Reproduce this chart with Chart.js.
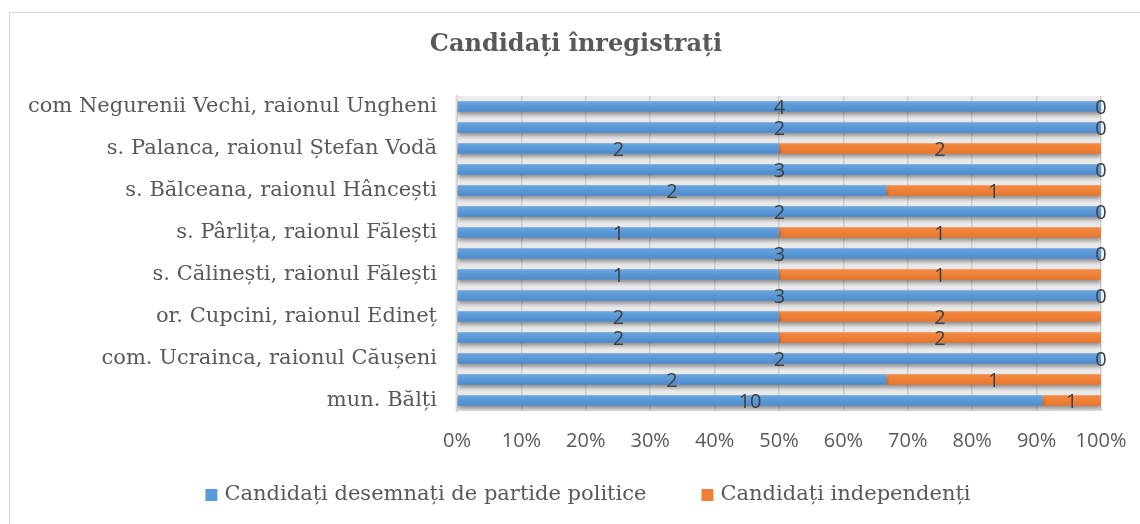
<!DOCTYPE html>
<html>
<head>
<meta charset="utf-8">
<script src="https://cdn.jsdelivr.net/npm/chart.js@4.4.0/dist/chart.umd.min.js"></script>
<style>
  html, body { margin: 0; padding: 0; background: #fff; }
  #wrap { position: relative; width: 1140px; height: 524px; overflow: hidden; }
  #frame { position: absolute; left: 9px; top: 12px; width: 1200px; height: 600px; border: 1px solid #d9d9d9; box-sizing: border-box; }
  canvas { position: absolute; left: 0; top: 0; }
</style>
</head>
<body>
<div id="wrap">
  <div id="frame"></div>
  <canvas id="c" width="1140" height="524"></canvas>
</div>
<script>
const titleText = 'Candidați înregistrați';
const categories = [
  'com Negurenii Vechi, raionul Ungheni',
  '',
  's. Palanca, raionul Ștefan Vodă',
  '',
  's. Bălceana, raionul Hâncești',
  '',
  's. Pârlița, raionul Fălești',
  '',
  's. Călinești, raionul Fălești',
  '',
  'or. Cupcini, raionul Edineț',
  '',
  'com. Ucrainca, raionul Căușeni',
  '',
  'mun. Bălți'
];
const seriesNames = ['Candidați desemnați de partide politice', 'Candidați independenți'];
const partyCandidates = [4, 2, 2, 3, 2, 2, 1, 3, 1, 3, 2, 2, 2, 2, 10];
const independentCandidates = [0, 0, 2, 0, 1, 0, 1, 0, 1, 0, 2, 2, 0, 1, 1];
const xTicks = [0, 10, 20, 30, 40, 50, 60, 70, 80, 90, 100];

const totals = partyCandidates.map((v, i) => v + independentCandidates[i]);
const pct = arr => arr.map((v, i) => v / totals[i] * 100);

const serif = "'DejaVu Serif', serif";
const sans = "'Open Sans', sans-serif";
const seriesColors = ['#5a9ad9', '#f07f36'];

function barFill(top, bottom, fallback) {
  return (context) => {
    const chart = context.chart;
    const ys = chart.scales && chart.scales.y;
    if (!ys || !chart.chartArea || context.dataIndex === undefined) return fallback;
    const y = ys.getPixelForValue(context.dataIndex);
    if (!isFinite(y)) return fallback;
    const g = chart.ctx.createLinearGradient(0, y - 6, 0, y + 6);
    g.addColorStop(0, top);
    g.addColorStop(1, bottom);
    return g;
  };
}

const plotPlugin = {
  id: 'plotDecor',
  beforeDraw(chart) {
    const { ctx, chartArea: a } = chart;
    ctx.save();
    ctx.fillStyle = '#ebebeb';
    ctx.fillRect(a.left - 2, a.top, a.right - a.left + 2, a.bottom - a.top);
    // title
    ctx.font = 'bold 24px ' + serif;
    ctx.fillStyle = '#595959';
    ctx.textAlign = 'center';
    ctx.textBaseline = 'middle';
    ctx.fillText(titleText, 576, 45);
    // legend
    ctx.font = '21px ' + serif;
    ctx.textAlign = 'left';
    const box = 12, gap = 7, sep = 55;
    const w = seriesNames.map(s => ctx.measureText(s).width);
    const total = box + gap + w[0] + sep + box + gap + w[1];
    let x = 588 - total / 2;
    const ly = 495;
    seriesNames.forEach((s, i) => {
      ctx.fillStyle = seriesColors[i];
      ctx.fillRect(x, ly - box / 2, box, box);
      ctx.fillStyle = '#595959';
      ctx.fillText(s, x + box + gap, ly);
      x += box + gap + w[i] + sep;
    });
    ctx.restore();
  },
  beforeDatasetsDraw(chart) {
    const ctx = chart.ctx;
    ctx.save();
    ctx.shadowColor = 'rgba(0,0,0,0.4)';
    ctx.shadowOffsetY = 3;
    ctx.shadowBlur = 4;
  },
  afterDatasetsDraw(chart) {
    const ctx = chart.ctx;
    ctx.restore();
    ctx.save();
    ctx.font = '20px ' + sans;
    ctx.fillStyle = '#404040';
    ctx.textAlign = 'center';
    ctx.textBaseline = 'middle';
    const raw = [partyCandidates, independentCandidates];
    chart.data.datasets.forEach((ds, di) => {
      const meta = chart.getDatasetMeta(di);
      meta.data.forEach((el, i) => {
        const cx = (el.x + el.base) / 2;
        ctx.fillText(String(raw[di][i]), cx, el.y + 2);
      });
    });
    ctx.restore();
  }
};

new Chart(document.getElementById('c'), {
  type: 'bar',
  data: {
    labels: categories,
    datasets: [
      { label: seriesNames[0], data: pct(partyCandidates), backgroundColor: barFill('#6ca7e0', '#4a89cc', seriesColors[0]), borderWidth: 0 },
      { label: seriesNames[1], data: pct(independentCandidates), backgroundColor: barFill('#f68c45', '#e6742a', seriesColors[1]), borderWidth: 0 }
    ]
  },
  options: {
    indexAxis: 'y',
    responsive: false,
    animation: false,
    devicePixelRatio: 1,
    layout: { padding: { left: 0, right: 39, top: 96, bottom: 53 } },
    datasets: { bar: { categoryPercentage: 1, barPercentage: 0.5 } },
    scales: {
      x: {
        stacked: true, min: 0, max: 100,
        afterBuildTicks(scale) { scale.ticks = xTicks.map(v => ({ value: v })); },
        afterFit(scale) { scale.paddingLeft = 0; scale.paddingRight = 0; },
        ticks: { callback: v => v + '%', color: '#595959', font: { family: sans, size: 20 }, padding: 18, maxRotation: 0 },
        grid: { color: '#cfcfcf', lineWidth: 1.5, drawTicks: false },
        border: { display: false }
      },
      y: {
        stacked: true,
        afterFit(scale) { scale.width = 457; },
        ticks: { autoSkip: false, color: '#595959', font: { family: serif, size: 21 }, padding: 20 },
        grid: { display: false, drawTicks: false },
        border: { display: true, color: '#d9d9d9', width: 2 }
      }
    },
    plugins: {
      title: { display: false },
      legend: { display: false },
      tooltip: { enabled: false }
    }
  },
  plugins: [plotPlugin]
});
</script>
</body>
</html>
